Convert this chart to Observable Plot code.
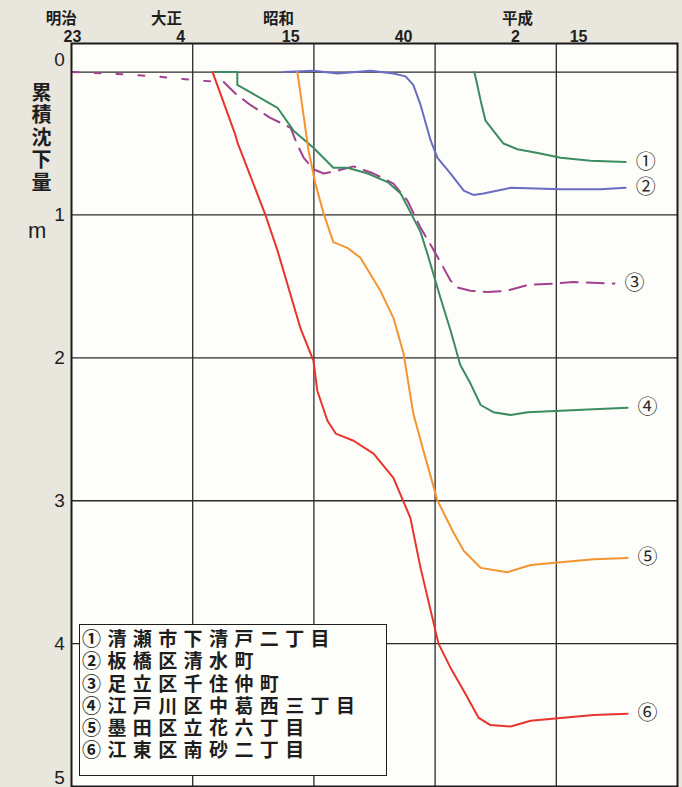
<!DOCTYPE html>
<html>
<head>
<meta charset="utf-8">
<script src="https://cdn.jsdelivr.net/npm/d3@7"></script>
<script src="https://cdn.jsdelivr.net/npm/@observablehq/plot@0.6"></script>
<style>
  html, body { margin: 0; padding: 0; background: #e8e6dd; }
  #wrap { position: relative; width: 682px; height: 787px; overflow: hidden; }
  #ytitle { position: absolute; left: 27px; top: 82px; writing-mode: vertical-rl; font-family: "Noto Sans CJK JP"; font-weight: 700; font-size: 20px; letter-spacing: 2.5px; color: #1e1e1e; }
  #yunit { position: absolute; left: 28px; top: 218px; font-family: "Liberation Sans", Arial, sans-serif; font-size: 22px; color: #1e1e1e; }
  #legend { position: absolute; left: 79px; top: 624px; width: 308px; height: 152px; border: 1.6px solid #1e1e1e; background: #fdfdf9; box-sizing: border-box; padding: 2px 0 0 2px; font-family: "Noto Sans CJK JP"; font-weight: 700; font-size: 19px; line-height: 22.3px; letter-spacing: 6.4px; color: #1e1e1e; white-space: nowrap; }
  #legend div { height: 22.3px; }
</style>
</head>
<body>
<div id="wrap">
  <div id="chart"></div>
  <div id="ytitle">累積沈下量</div>
  <div id="yunit">m</div>
  <div id="legend"></div>
</div>
<script>
// ---- data (year, cumulative subsidence in m) ----
const names = ["清瀬市下清戸二丁目", "板橋区清水町", "足立区千住仲町", "江戸川区中葛西三丁目", "墨田区立花六丁目", "江東区南砂二丁目"];
const marks = ["①", "②", "③", "④", "⑤", "⑥"];

const s1 = [[1973.1,0],[1973.7,0.09],[1974.4,0.20],[1975.4,0.34],[1977.0,0.41],[1979.1,0.50],[1982.0,0.54],[1986.7,0.57],[1990.9,0.60],[1997.1,0.62],[2004.3,0.63]];
const s2 = [[1933.7,0],[1939.9,-0.01],[1944.9,0.01],[1951.7,-0.01],[1956.4,0.01],[1958.9,0.03],[1960.5,0.09],[1962.0,0.23],[1964.1,0.48],[1965.5,0.60],[1968.2,0.71],[1970.9,0.83],[1972.9,0.86],[1975.0,0.85],[1980.6,0.81],[1990.9,0.82],[1999.1,0.82],[2004.3,0.81]];
const s3early = [[1890.2,0],[1898.0,0.01],[1907.3,0.03],[1916.6,0.06],[1921.4,0.07]];
const s3 = [[1921.4,0.07],[1923.8,0.15],[1926.9,0.23],[1931.0,0.32],[1935.2,0.39],[1936.6,0.51],[1937.9,0.60],[1939.9,0.68],[1942.0,0.71],[1944.9,0.69],[1948.2,0.66],[1952.3,0.71],[1956.4,0.78],[1959.3,0.90],[1962.0,1.09],[1964.1,1.21],[1966.1,1.33],[1968.2,1.46],[1969.8,1.51],[1972.3,1.53],[1975.8,1.54],[1979.9,1.53],[1984.1,1.49],[1989.4,1.48],[1993.5,1.47],[2002.0,1.48]];
const s4 = [[1919.1,0],[1924.2,0],[1924.2,0.09],[1926.3,0.13],[1932.5,0.25],[1935.8,0.41],[1939.9,0.53],[1944.0,0.67],[1946.9,0.67],[1951.1,0.71],[1955.2,0.77],[1957.9,0.85],[1959.9,0.98],[1962.0,1.12],[1963.4,1.27],[1966.1,1.58],[1968.2,1.81],[1970.2,2.05],[1972.3,2.18],[1974.4,2.33],[1977.0,2.38],[1980.6,2.40],[1984.1,2.38],[1990.9,2.37],[1997.7,2.36],[2004.7,2.35]];
const s5 = [[1936.6,0],[1938.9,0.55],[1940.3,0.78],[1942.0,0.99],[1944.0,1.19],[1946.9,1.23],[1949.6,1.30],[1953.7,1.53],[1956.4,1.72],[1958.5,1.97],[1960.5,2.39],[1962.6,2.65],[1965.5,3.00],[1968.6,3.21],[1970.9,3.35],[1974.4,3.47],[1979.9,3.50],[1984.7,3.45],[1990.9,3.43],[1997.7,3.41],[2004.7,3.40]];
const s6 = [[1919.1,0],[1923.8,0.44],[1924.2,0.49],[1930.0,1.00],[1932.5,1.25],[1937.2,1.79],[1939.9,2.02],[1940.7,2.23],[1942.8,2.44],[1944.5,2.53],[1948.2,2.58],[1952.3,2.67],[1956.4,2.84],[1959.9,3.12],[1962.0,3.47],[1965.7,4.00],[1968.2,4.17],[1970.9,4.33],[1974.0,4.52],[1976.4,4.57],[1980.6,4.58],[1984.7,4.54],[1990.9,4.52],[1997.7,4.50],[2004.7,4.49]];

// axis labels (positions, in years)
const eraNames = ["明治", "大正", "昭和", "平成"];
const eraYears = [1887.9, 1909.6, 1932.7, 1982.0];
const tickTexts = ["23", "4", "15", "40", "2", "15"];
const tickYears = [1890.2, 1912.5, 1935.2, 1958.5, 1981.6, 1994.6];
const gridYears = [1915, 1940, 1965, 1990];
const depthTicks = [0, 1, 2, 3, 4, 5];

// ---- styles ----
const colors = ["#3c8c62", "#6a6cc2", "#a2418f", "#3c8c62", "#f39430", "#e8342c"];

const toRows = (pts, id) => pts.map(([year, depth]) => ({year, depth, id}));
const series = [s1, s2, s3, s4, s5, s6];
const ends = series.map((s, i) => ({...toRows(s, i)[s.length - 1], label: marks[i]}));

document.getElementById("legend").innerHTML = names.map((n, i) => `<div>${marks[i]}${n}</div>`).join("");

const lineOpts = (i) => ({x: "year", y: "depth", stroke: colors[i], strokeWidth: 2, strokeLinejoin: "round"});

const chart = Plot.plot({
  width: 682,
  height: 787,
  marginTop: 43,
  marginLeft: 71,
  marginRight: 5,
  marginBottom: 1,
  style: {background: "transparent", overflow: "visible", fontFamily: "'Liberation Sans', Arial, sans-serif"},
  x: {domain: [1890, 2015], axis: null},
  y: {domain: [-0.2, 5], reverse: true, axis: null},
  marks: [
    Plot.frame({fill: "#fdfdf9"}),
    Plot.ruleY(depthTicks.slice(0, 5), {stroke: "#2b2b2b", strokeWidth: 1.3}),
    Plot.ruleX(gridYears, {stroke: "#2b2b2b", strokeWidth: 1.3}),
    Plot.line(toRows(s3early, 3), {...lineOpts(2), strokeDasharray: "6,16"}),
    Plot.line(toRows(s3, 3), {...lineOpts(2), strokeDasharray: "17,9"}),
    Plot.line(toRows(s4, 4), lineOpts(3)),
    Plot.line(toRows(s2, 2), lineOpts(1)),
    Plot.line(toRows(s1, 1), lineOpts(0)),
    Plot.line(toRows(s5, 5), lineOpts(4)),
    Plot.line(toRows(s6, 6), lineOpts(5)),
    Plot.frame({stroke: "#1a1a1a", strokeWidth: 2}),
    Plot.text(ends, {x: "year", y: "depth", text: "label", dx: 20, fontSize: 20, fill: "#2a2a2a", fontFamily: "Noto Sans CJK JP"}),
    Plot.text(depthTicks.filter(d => d > 0 && d < 5), {x: 1890, y: d => d, text: d => String(d), dx: -12, fontSize: 19, fill: "#1e1e1e"}),
    Plot.text([0], {x: 1890, y: d => d, text: d => String(d), dx: -12, dy: -12, fontSize: 19, fill: "#1e1e1e"}),
    Plot.text([5], {x: 1890, y: d => d, text: d => String(d), dx: -12, dy: -9, fontSize: 19, fill: "#1e1e1e"}),
    Plot.text(eraNames, {x: (d, i) => eraYears[i], frameAnchor: "top", lineAnchor: "bottom", dy: -20, text: d => d, fontSize: 15.5, fontWeight: 700, fill: "#1e1e1e", fontFamily: "Noto Sans CJK JP"}),
    Plot.text(tickTexts, {x: (d, i) => tickYears[i], frameAnchor: "top", lineAnchor: "bottom", dy: -2, text: d => d, fontSize: 16, fontWeight: 700, fill: "#1e1e1e"})
  ]
});
document.getElementById("chart").appendChild(chart);
</script>
</body>
</html>
